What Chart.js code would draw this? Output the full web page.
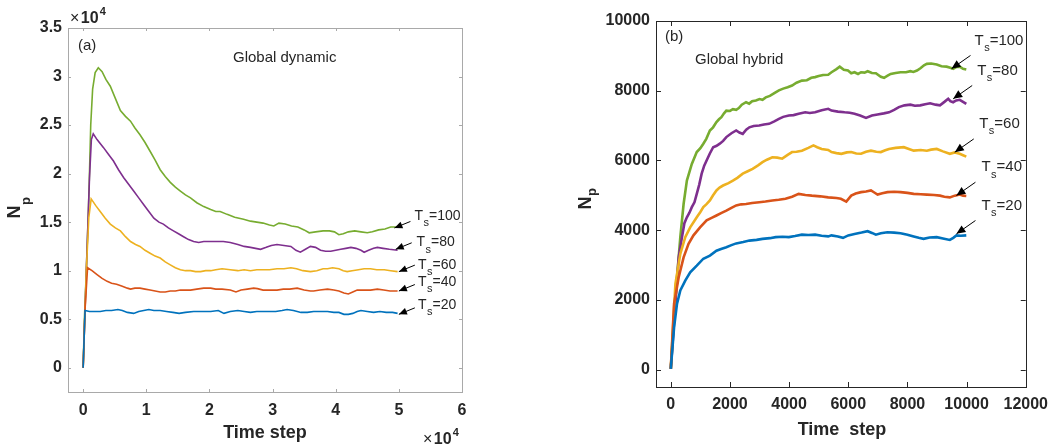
<!DOCTYPE html>
<html>
<head>
<meta charset="utf-8">
<title>Np vs time step</title>
<script src="https://cdn.jsdelivr.net/npm/chart.js@4.4.1/dist/chart.umd.min.js"></script>
<style>
  html, body { margin: 0; padding: 0; background: #fff; }
  #wrap { position: relative; width: 1056px; height: 448px; overflow: hidden; }
  .panel { position: absolute; top: 0; width: 528px; height: 448px; }
  #pa { left: 0; }
  #pb { left: 528px; }
</style>
</head>
<body>
<div id="wrap">
  <div class="panel" id="pa"><canvas id="chartA" width="528" height="448"></canvas></div>
  <div class="panel" id="pb"><canvas id="chartB" width="528" height="448"></canvas></div>
</div>
<script>
const FONT = '"Liberation Sans", Arial, Helvetica, sans-serif';
const INK = '#262626';

const tsLabels = ['20', '40', '60', '80', '100'];
const tsColors = ['#0072BD', '#D95319', '#EDB120', '#7E2F8E', '#77AC30'];

// (a) Global dynamic -- time step in units of 1e4, Np in units of 1e4
const aXTicks = [0, 1, 2, 3, 4, 5, 6];
const aYTicks = [0, 0.5, 1, 1.5, 2, 2.5, 3, 3.5];

const aTs20 = [[0,0],[0.03,0.59],[0.1,0.58],[0.2,0.58],[0.27,0.58],[0.36,0.59],[0.45,0.59],[0.55,0.60],[0.62,0.59],[0.7,0.57],
  [0.8,0.56],[0.88,0.58],[0.96,0.59],[1.04,0.60],[1.12,0.59],[1.22,0.59],[1.32,0.58],[1.42,0.57],[1.52,0.56],[1.62,0.57],
  [1.75,0.58],[1.86,0.58],[2.02,0.58],[2.14,0.59],[2.23,0.56],[2.33,0.58],[2.45,0.59],[2.55,0.58],[2.65,0.57],[2.75,0.58],
  [2.92,0.58],[3.05,0.58],[3.15,0.59],[3.23,0.60],[3.33,0.59],[3.45,0.57],[3.55,0.57],[3.65,0.58],[3.76,0.58],[3.87,0.58],
  [3.97,0.57],[4.05,0.57],[4.13,0.55],[4.2,0.55],[4.27,0.56],[4.34,0.58],[4.4,0.59],[4.5,0.58],[4.6,0.57],[4.7,0.58],
  [4.8,0.57],[4.9,0.57],[4.98,0.56]];

const aTs40 = [[0,0],[0.03,0.6],[0.07,1.03],[0.14,1.00],[0.22,0.96],[0.3,0.92],[0.38,0.89],[0.45,0.87],[0.53,0.86],[0.62,0.84],
  [0.7,0.82],[0.75,0.81],[0.82,0.82],[0.90,0.82],[0.98,0.81],[1.06,0.80],[1.14,0.79],[1.22,0.78],[1.3,0.78],[1.38,0.79],
  [1.46,0.79],[1.54,0.80],[1.62,0.80],[1.70,0.80],[1.8,0.81],[1.91,0.82],[2.02,0.82],[2.1,0.81],[2.2,0.81],[2.33,0.80],
  [2.42,0.78],[2.5,0.80],[2.6,0.81],[2.7,0.82],[2.76,0.815],[2.85,0.80],[2.95,0.80],[3.07,0.80],[3.17,0.81],[3.27,0.81],
  [3.39,0.82],[3.5,0.80],[3.6,0.79],[3.65,0.79],[3.75,0.80],[3.87,0.81],[3.97,0.80],[4.05,0.79],[4.13,0.77],[4.2,0.76],
  [4.27,0.78],[4.34,0.80],[4.44,0.80],[4.55,0.80],[4.66,0.81],[4.76,0.80],[4.86,0.79],[4.98,0.79]];

const aTs60 = [[0,0],[0.05,1.0],[0.09,1.55],[0.127,1.74],[0.2,1.67],[0.27,1.61],[0.35,1.54],[0.43,1.48],[0.51,1.44],[0.59,1.41],
  [0.67,1.35],[0.75,1.30],[0.83,1.27],[0.90,1.25],[0.98,1.21],[1.06,1.18],[1.14,1.15],[1.22,1.13],[1.3,1.09],[1.38,1.06],
  [1.46,1.03],[1.54,1.01],[1.62,1.00],[1.70,1.00],[1.78,0.99],[1.86,0.99],[1.94,1.00],[2.02,1.00],[2.1,1.01],[2.2,1.02],
  [2.33,1.01],[2.45,1.00],[2.55,1.01],[2.65,1.00],[2.75,1.01],[2.85,1.01],[2.95,1.01],[3.07,1.02],[3.18,1.02],[3.29,1.03],
  [3.38,1.02],[3.48,1.00],[3.6,0.99],[3.7,1.00],[3.8,1.02],[3.87,1.02],[3.95,1.03],[4.05,1.02],[4.12,1.00],[4.18,0.99],
  [4.26,1.00],[4.36,1.01],[4.45,1.02],[4.55,1.02],[4.65,1.01],[4.77,1.01],[4.87,1.00],[4.98,0.99]];

const aTs80 = [[0,0],[0.05,1.0],[0.1,1.95],[0.13,2.35],[0.16,2.41],[0.22,2.35],[0.32,2.27],[0.40,2.20],[0.48,2.13],[0.56,2.04],
  [0.64,1.96],[0.72,1.89],[0.80,1.82],[0.88,1.75],[0.96,1.68],[1.04,1.61],[1.12,1.54],[1.2,1.50],[1.27,1.48],[1.35,1.44],
  [1.43,1.41],[1.51,1.38],[1.59,1.35],[1.67,1.32],[1.75,1.30],[1.83,1.29],[1.91,1.30],[2.02,1.30],[2.12,1.30],[2.22,1.30],
  [2.33,1.29],[2.45,1.27],[2.55,1.25],[2.65,1.24],[2.73,1.23],[2.81,1.22],[2.9,1.24],[2.98,1.26],[3.07,1.27],[3.18,1.26],
  [3.29,1.25],[3.37,1.21],[3.44,1.19],[3.52,1.22],[3.6,1.25],[3.68,1.24],[3.76,1.21],[3.84,1.20],[3.92,1.20],[4.0,1.21],
  [4.08,1.22],[4.16,1.23],[4.24,1.24],[4.32,1.23],[4.4,1.21],[4.45,1.19],[4.52,1.21],[4.6,1.23],[4.66,1.24],[4.75,1.23],
  [4.85,1.22],[4.98,1.21]];

const aTs100 = [[0,0],[0.02,0.5],[0.05,1.0],[0.08,1.55],[0.10,2.0],[0.12,2.5],[0.15,2.87],[0.19,3.04],[0.24,3.09],[0.3,3.05],
  [0.36,2.97],[0.43,2.90],[0.5,2.79],[0.59,2.65],[0.67,2.59],[0.75,2.54],[0.82,2.47],[0.90,2.40],[0.98,2.32],[1.06,2.23],
  [1.14,2.14],[1.22,2.04],[1.30,1.97],[1.38,1.91],[1.46,1.86],[1.54,1.82],[1.62,1.78],[1.70,1.75],[1.80,1.70],[1.91,1.66],
  [2.02,1.63],[2.1,1.61],[2.17,1.61],[2.28,1.58],[2.4,1.55],[2.54,1.53],[2.65,1.51],[2.75,1.50],[2.85,1.49],[2.95,1.47],
  [3.02,1.46],[3.1,1.49],[3.2,1.48],[3.3,1.46],[3.4,1.45],[3.5,1.42],[3.58,1.39],[3.68,1.40],[3.8,1.41],[3.9,1.41],
  [3.98,1.40],[4.05,1.37],[4.12,1.38],[4.2,1.40],[4.3,1.41],[4.4,1.40],[4.5,1.39],[4.58,1.40],[4.68,1.42],[4.78,1.43],
  [4.87,1.45],[4.98,1.45]];

// (b) Global hybrid -- time step, Np
const bXTicks = [0, 2000, 4000, 6000, 8000, 10000, 12000];
const bYTicks = [0, 2000, 4000, 6000, 8000, 10000];

const bTs20 = [[0,20],[111,1210],[211,1890],[322,2270],[489,2550],[656,2790],[878,2980],[1100,3180],[1322,3270],[1544,3410],
  [1700,3460],[1878,3510],[2050,3570],[2211,3620],[2450,3660],[2656,3700],[2900,3720],[3100,3750],[3350,3770],[3544,3800],
  [3780,3810],[3990,3800],[4200,3830],[4433,3870],[4650,3860],[4878,3870],[5100,3840],[5322,3820],[5433,3850],[5650,3820],
  [5822,3780],[6000,3850],[6211,3890],[6450,3930],[6656,3970],[6800,3920],[6933,3870],[7100,3910],[7322,3940],[7550,3930],
  [7767,3910],[8000,3870],[8211,3820],[8380,3780],[8544,3750],[8750,3790],[8990,3800],[9200,3760],[9433,3720],[9550,3780],
  [9656,3850],[9800,3840],[9990,3850]];

const bTs40 = [[0,20],[111,1890],[267,2650],[433,3220],[600,3610],[767,3850],[989,4080],[1211,4280],[1380,4350],[1544,4420],
  [1700,4490],[1878,4560],[2050,4640],[2211,4710],[2380,4740],[2544,4750],[2750,4780],[2990,4800],[3200,4820],[3433,4850],
  [3650,4870],[3878,4900],[4100,4960],[4323,5040],[4550,5010],[4767,4990],[5050,4970],[5322,4940],[5600,4920],[5750,4900],
  [5933,4820],[6100,4990],[6250,5050],[6433,5090],[6600,5110],[6767,5140],[6880,5080],[6990,5020],[7150,5060],[7322,5090],
  [7550,5100],[7767,5090],[8000,5070],[8211,5040],[8450,5030],[8656,5020],[8900,5010],[9100,4990],[9250,4960],[9433,4940],
  [9600,4990],[9767,5020],[9880,4990],[9990,4980]];

const bTs60 = [[0,20],[156,2460],[322,3320],[489,3800],[656,4080],[878,4370],[1000,4520],[1100,4660],[1200,4740],[1322,4850],
  [1430,5000],[1544,5140],[1650,5220],[1767,5280],[1950,5350],[2100,5420],[2250,5500],[2433,5620],[2600,5690],[2767,5760],
  [2950,5860],[3100,5950],[3250,6020],[3433,6090],[3600,6080],[3767,6050],[3950,6160],[4100,6240],[4250,6250],[4433,6280],
  [4650,6360],[4823,6430],[4950,6380],[5100,6330],[5322,6300],[5433,6240],[5600,6210],[5767,6190],[5950,6230],[6100,6240],
  [6270,6200],[6433,6190],[6600,6250],[6767,6280],[6950,6250],[7100,6240],[7250,6290],[7378,6330],[7600,6360],[7878,6380],
  [8050,6330],[8211,6280],[8450,6300],[8656,6280],[8800,6310],[8990,6330],[9200,6260],[9433,6190],[9600,6230],[9767,6190],
  [9880,6150],[9990,6110]];

const bTs80 = [[0,20],[156,1890],[267,3220],[378,3800],[460,4200],[544,4370],[630,4500],[711,4660],[800,4800],[878,5040],
  [960,5300],[1044,5620],[1130,5850],[1211,6000],[1320,6200],[1433,6380],[1550,6420],[1656,6480],[1770,6560],[1878,6670],
  [2050,6780],[2211,6860],[2320,6800],[2433,6760],[2550,6880],[2656,6950],[2800,6990],[2990,7000],[3150,7030],[3323,7050],
  [3500,7120],[3655,7190],[3800,7250],[3990,7290],[4150,7300],[4323,7340],[4545,7380],[4700,7360],[4878,7380],[5100,7440],
  [5322,7480],[5433,7430],[5650,7400],[5878,7380],[6050,7370],[6211,7340],[6400,7290],[6600,7220],[6800,7290],[6990,7320],
  [7200,7350],[7378,7380],[7550,7450],[7711,7530],[7900,7580],[8100,7600],[8250,7570],[8433,7580],[8600,7610],[8767,7640],
  [8950,7600],[9100,7580],[9250,7680],[9378,7770],[9450,7700],[9545,7670],[9650,7720],[9767,7740],[9880,7680],[9990,7620]];

const bTs100 = [[0,20],[111,1500],[211,2650],[322,3800],[433,4750],[544,5420],[711,5900],[878,6240],[1000,6350],[1100,6480],
  [1200,6620],[1322,6860],[1430,6950],[1544,7100],[1630,7180],[1711,7240],[1800,7350],[1878,7430],[2000,7420],[2100,7470],
  [2211,7450],[2300,7500],[2400,7600],[2544,7670],[2650,7630],[2750,7700],[2878,7720],[3000,7760],[3100,7740],[3211,7810],
  [3350,7850],[3500,7930],[3655,8010],[3800,8060],[3950,8100],[4100,8150],[4250,8230],[4433,8290],[4600,8300],[4750,8370],
  [4878,8390],[5000,8420],[5150,8450],[5322,8460],[5433,8530],[5600,8620],[5711,8690],[5850,8600],[5990,8580],[6100,8500],
  [6211,8530],[6330,8480],[6433,8530],[6550,8520],[6656,8560],[6800,8510],[6933,8500],[7100,8400],[7211,8370],[7330,8430],
  [7433,8480],[7600,8510],[7767,8530],[7950,8530],[8100,8560],[8200,8540],[8323,8580],[8450,8650],[8560,8730],[8656,8770],
  [8800,8780],[8990,8750],[9150,8700],[9323,8690],[9450,8660],[9545,8630],[9650,8680],[9767,8690],[9880,8630],[9990,8610]];

// arrow tips (data coords), same order as tsLabels
const aTips = [[5.0,0.55],[5.0,0.79],[5.0,0.99],[4.95,1.22],[4.93,1.44]];
const bTips = [[9657,3894],[9657,4993],[9600,6235],[9547,7768],[9490,8630]];


function text(ctx, str, x, y, font, align, baseline) {
    ctx.font = font;
    ctx.textAlign = align || 'left';
    ctx.textBaseline = baseline || 'alphabetic';
    ctx.fillText(str, x, y);
    return ctx.measureText(str).width;
}

function drawExp(ctx, x, y) {
    let w = text(ctx, '\u00d7', x, y, `16px ${FONT}`);
    x += w + 1.5;
    w = text(ctx, '10', x, y, `bold 16px ${FONT}`);
    text(ctx, '4', x + w + 1, y - 8, `bold 11px ${FONT}`);
}

function drawTs(ctx, val, x, yc, size) {
    let w = text(ctx, 'T', x, yc, `${size}px ${FONT}`, 'left', 'middle');
    const ws = text(ctx, 's', x + w + 0.5, yc + size * 0.5, `${Math.round(size * 0.75)}px ${FONT}`, 'left', 'middle');
    text(ctx, '=' + val, x + w + ws + 0.5, yc, `${size}px ${FONT}`, 'left', 'middle');
}

function makeDecor(d) {
    return {
        id: 'decor',
        afterDraw(chart) {
            const { ctx, chartArea: a, scales } = chart;
            const sx = scales.x, sy = scales.y;
            ctx.save();

            // box with inward ticks on all four sides
            ctx.lineWidth = 1;
            ctx.strokeStyle = d.frame;
            ctx.beginPath();
            sx.ticks.forEach(t => {
                const p = Math.round(sx.getPixelForValue(t.value)) + 0.5;
                ctx.moveTo(p, a.bottom); ctx.lineTo(p, a.bottom - d.tickLen);
                ctx.moveTo(p, a.top); ctx.lineTo(p, a.top + d.tickLen);
            });
            sy.ticks.forEach(t => {
                const p = Math.round(sy.getPixelForValue(t.value)) + 0.5;
                ctx.moveTo(a.left, p); ctx.lineTo(a.left + d.tickLen, p);
                ctx.moveTo(a.right, p); ctx.lineTo(a.right - d.tickLen, p);
            });
            ctx.stroke();
            ctx.strokeRect(Math.round(a.left) + 0.5, Math.round(a.top) + 0.5,
                Math.round(a.right - a.left), Math.round(a.bottom - a.top));

            ctx.fillStyle = INK;
            text(ctx, d.xTitle, d.xTitlePos[0], d.xTitlePos[1], `bold 18px ${FONT}`, 'center', 'middle');

            // N_p, rotated
            ctx.save();
            ctx.translate(d.yTitlePos[0], d.yTitlePos[1]);
            ctx.rotate(-Math.PI / 2);
            const wn = text(ctx, 'N', 0, 0, `bold 18px ${FONT}`, 'center', 'middle');
            text(ctx, 'p', wn / 2 + 0.5, d.subDrop, `bold 13px ${FONT}`, 'left', 'alphabetic');
            ctx.restore();

            d.exps.forEach(e => drawExp(ctx, e[0], e[1]));

            text(ctx, d.panel, d.panelPos[0], d.panelPos[1], `15px ${FONT}`, 'left', 'middle');
            text(ctx, d.note, d.notePos[0], d.notePos[1], `15px ${FONT}`, 'left', 'middle');

            // arrows + T_s labels
            ctx.strokeStyle = '#000';
            ctx.fillStyle = '#000';
            d.tips.forEach((tp, i) => {
                const x1 = sx.getPixelForValue(tp[0]), y1 = sy.getPixelForValue(tp[1]);
                const x0 = x1 + d.tail[0], y0 = y1 + d.tail[1];
                const ang = Math.atan2(y1 - y0, x1 - x0);
                const L = d.head[0], W = d.head[1];
                ctx.beginPath();
                ctx.moveTo(x0, y0); ctx.lineTo(x1, y1);
                ctx.stroke();
                const bx = x1 - L * Math.cos(ang), by = y1 - L * Math.sin(ang);
                ctx.beginPath();
                ctx.moveTo(x1, y1);
                ctx.lineTo(bx - W * Math.sin(ang), by + W * Math.cos(ang));
                ctx.lineTo(bx + W * Math.sin(ang), by - W * Math.cos(ang));
                ctx.closePath();
                ctx.fill();
                ctx.fillStyle = INK;
                drawTs(ctx, tsLabels[i], x1 + d.labelOff[i][0], y1 + d.labelOff[i][1], d.tsSize);
                ctx.fillStyle = '#000';
            });
            ctx.restore();
        }
    };
}

function makeChart(id, p) {
    const W = 528, H = 448;
    const tickFont = { family: FONT, size: 16, weight: 'bold' };
    return new Chart(document.getElementById(id), {
        type: 'line',
        data: {
            datasets: p.series.map((s, i) => ({
                label: 'Ts=' + tsLabels[i],
                data: s.map(v => ({ x: v[0], y: v[1] })),
                borderColor: tsColors[i],
                borderWidth: p.lw,
                pointRadius: 0,
                tension: 0,
                fill: false
            }))
        },
        options: {
            responsive: false,
            animation: false,
            devicePixelRatio: 1,
            layout: { padding: { top: p.area.top, right: W - p.area.right, left: 0, bottom: 0 } },
            plugins: { legend: { display: false }, tooltip: { enabled: false } },
            scales: {
                x: {
                    type: 'linear', min: p.xRange[0], max: p.xRange[1],
                    afterBuildTicks: s => { s.ticks = p.xTicks.map(v => ({ value: v })); },
                    afterFit: s => { s.height = H - p.area.bottom; },
                    ticks: { callback: v => String(v), font: tickFont, color: INK, padding: p.xPad, maxRotation: 0, autoSkip: false },
                    grid: { display: false, drawTicks: false },
                    border: { display: false }
                },
                y: {
                    type: 'linear', min: p.yRange[0], max: p.yRange[1],
                    afterBuildTicks: s => { s.ticks = p.yTicks.map(v => ({ value: v })); },
                    afterFit: s => { s.width = p.area.left; },
                    ticks: { callback: v => String(v), font: tickFont, color: INK, padding: 6, autoSkip: false },
                    grid: { display: false, drawTicks: false },
                    border: { display: false }
                }
            }
        },
        plugins: [makeDecor(p.decor)]
    });
}

makeChart('chartA', {
    series: [aTs20, aTs40, aTs60, aTs80, aTs100],
    xTicks: aXTicks, yTicks: aYTicks,
    xRange: [-0.24, 6], yRange: [-0.25, 3.5],
    area: { left: 68, right: 462, top: 28, bottom: 392 },
    lw: 1.6, xPad: 9,
    decor: {
        frame: '#a9a9a9', tickLen: 3,
        xTitle: 'Time step', xTitlePos: [265, 433],
        yTitlePos: [15, 212], subDrop: 15,
        exps: [[70, 23], [423, 444]],
        panel: '(a)', panelPos: [78, 46],
        note: 'Global dynamic', notePos: [233, 58],
        tips: aTips, tail: [16, -6.5], head: [8, 3.5],
        labelOff: [[19.2, -9], [19.2, -9], [19.2, -6.7], [20.7, -6.7], [20, -11.6]],
        tsSize: 14
    }
});

makeChart('chartB', {
    series: [bTs20, bTs40, bTs60, bTs80, bTs100],
    xTicks: bXTicks, yTicks: bYTicks,
    xRange: [-500, 12000], yRange: [-500, 10000],
    area: { left: 128, right: 501, top: 21, bottom: 387 },
    lw: 2.6, xPad: 8,
    decor: {
        frame: '#262626', tickLen: 5,
        xTitle: 'Time  step', xTitlePos: [314, 430],
        yTitlePos: [58, 203], subDrop: 10,
        exps: [],
        panel: '(b)', panelPos: [137, 37],
        note: 'Global hybrid', notePos: [167, 60],
        tips: bTips, tail: [19, -13.3], head: [9, 4],
        labelOff: [[25, -28.3], [25, -28.3], [24.4, -28.4], [24, -28.3], [23, -28.3]],
        tsSize: 15
    }
});
</script>
</body>
</html>
